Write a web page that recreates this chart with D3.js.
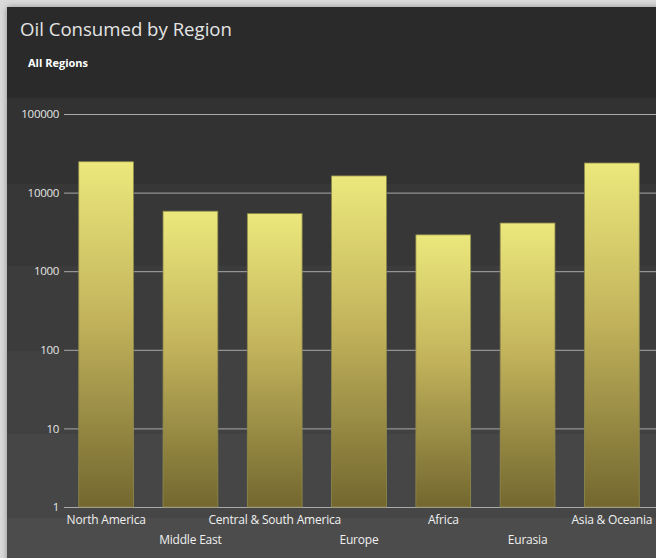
<!DOCTYPE html>
<html>
<head>
<meta charset="utf-8">
<script src="https://cdn.jsdelivr.net/npm/d3@7"></script>
<style>
  html, body { margin: 0; padding: 0; background: #dadada; overflow: hidden; }
  svg { display: block; }
</style>
</head>
<body>
<svg id="chart" width="656" height="558"></svg>
<script>
// data
const regions = ["North America", "Middle East", "Central & South America", "Europe", "Africa", "Eurasia", "Asia & Oceania"];
const consumption = [24700, 5800, 5400, 16300, 2900, 4100, 23800];
const yTicks = [1, 10, 100, 1000, 10000, 100000];

const width = 656, height = 558;
const svg = d3.select("#chart");

// drop shadow for the panel
const defs = svg.append("defs");
const shadow = defs.append("filter").attr("id", "shadow").attr("x", "-5%").attr("y", "-5%").attr("width", "110%").attr("height", "110%");
shadow.append("feDropShadow").attr("dx", 0).attr("dy", 0).attr("stdDeviation", 3).attr("flood-color", "#000").attr("flood-opacity", 0.35);

const grad = defs.append("linearGradient").attr("id", "barGrad").attr("x1", 0).attr("y1", 0).attr("x2", 0).attr("y2", 1);
grad.append("stop").attr("offset", "0%").attr("stop-color", "#ece87c");
grad.append("stop").attr("offset", "45%").attr("stop-color", "#c3b45c");
grad.append("stop").attr("offset", "100%").attr("stop-color", "#73672f");

svg.append("rect").attr("width", width).attr("height", height).attr("fill", "#dadada");

const panel = svg.append("g");
panel.append("rect")
  .attr("x", 7).attr("y", 7).attr("width", width + 20).attr("height", height + 20)
  .attr("fill", "#2b2b2b").attr("filter", "url(#shadow)");

// stepped background bands behind the plot
const bandTops = [98, 184, 266, 351, 434, 518];
const bandColors = ["#323232", "#373737", "#3c3c3c", "#414141", "#464646", "#4c4c4c"];
panel.selectAll(".band")
  .data(bandTops)
  .enter().append("rect")
  .attr("class", "band")
  .attr("x", 7)
  .attr("y", d => d)
  .attr("width", width)
  .attr("height", (d, i) => (i < bandTops.length - 1 ? bandTops[i + 1] : height) - d)
  .attr("fill", (d, i) => bandColors[i]);

// title
svg.append("text")
  .attr("x", 20).attr("y", 36)
  .attr("fill", "#e4e4e4")
  .style("font-family", "'Open Sans', 'Noto Sans', sans-serif")
  .style("font-size", "18.6px")
  .text("Oil Consumed by Region");

svg.append("text")
  .attr("x", 28).attr("y", 67)
  .attr("fill", "#ffffff")
  .style("font-family", "'Open Sans', 'Noto Sans', sans-serif")
  .style("font-size", "11px")
  .style("font-weight", "bold")
  .text("All Regions");

// scales
const x = d3.scaleBand()
  .domain(regions)
  .range([64, 654])
  .paddingInner(0.35)
  .paddingOuter(0.175);

const y = d3.scaleLog()
  .domain([1, 100000])
  .range([507, 114]);

// y axis with gridlines
const yAxis = svg.append("g")
  .attr("transform", "translate(64,0)")
  .call(d3.axisLeft(y)
    .tickValues(yTicks)
    .tickFormat(d3.format("d"))
    .tickSize(-(width - 64))
    .tickPadding(5));
yAxis.select(".domain").remove();
yAxis.selectAll(".tick line").attr("stroke", "#a9a9a9").attr("stroke-width", 1);
yAxis.selectAll(".tick text")
  .attr("fill", "#e6e6e6")
  .style("font-family", "'Open Sans', sans-serif")
  .style("font-size", "11.5px")
  .style("letter-spacing", "-0.3px");

// bars
svg.selectAll(".bar")
  .data(regions)
  .enter().append("rect")
  .attr("class", "bar")
  .attr("x", d => x(d))
  .attr("y", (d, i) => y(consumption[i]))
  .attr("width", x.bandwidth())
  .attr("height", (d, i) => y(1) - y(consumption[i]))
  .attr("fill", "url(#barGrad)")
  .attr("stroke", "#8e8a4c")
  .attr("stroke-width", 0.8);

// staggered category labels
svg.selectAll(".xlabel")
  .data(regions)
  .enter().append("text")
  .attr("class", "xlabel")
  .attr("x", d => x(d) + x.bandwidth() / 2)
  .attr("y", (d, i) => i % 2 === 0 ? 524 : 544)
  .attr("text-anchor", "middle")
  .attr("fill", "#f0f0f0")
  .style("font-family", "'Open Sans', sans-serif")
  .style("font-size", "12px")
  .style("letter-spacing", "-0.2px")
  .text(d => d);
</script>
</body>
</html>
